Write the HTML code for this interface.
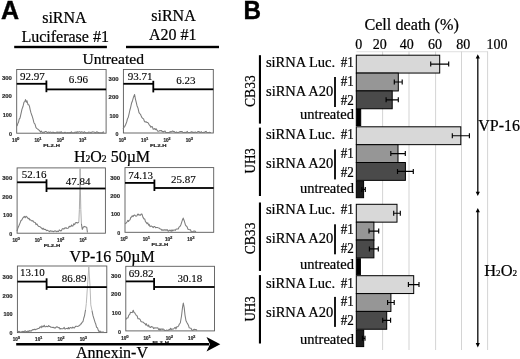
<!DOCTYPE html>
<html><head><meta charset="utf-8"><title>Figure</title>
<style>html,body{margin:0;padding:0;background:#fff;}body{width:520px;height:359px;overflow:hidden;font-family:"Liberation Serif",serif;}</style>
</head><body>
<svg width="520" height="359" viewBox="0 0 520 359" style="display:block;filter:blur(0.3px)"><text transform="translate(0.9,19) scale(0.95,1)" font-size="26.4" font-family="Liberation Sans, sans-serif" font-weight="bold" stroke="#000" stroke-width="0.4">A</text>
<text x="64.4" y="23" font-size="16" text-anchor="middle" font-family="Liberation Serif, serif" stroke="#000" stroke-width="0.22" fill="#000" >siRNA</text>
<text x="65.2" y="42" font-size="16" text-anchor="middle" font-family="Liberation Serif, serif" stroke="#000" stroke-width="0.22" fill="#000" >Luciferase #1</text>
<text x="173.5" y="20.9" font-size="16" text-anchor="middle" font-family="Liberation Serif, serif" stroke="#000" stroke-width="0.22" fill="#000" >siRNA</text>
<text x="172.8" y="40.1" font-size="16" text-anchor="middle" font-family="Liberation Serif, serif" stroke="#000" stroke-width="0.22" fill="#000" >A20 #1</text>
<rect x="14.2" y="45.8" width="92.7" height="2.4" fill="#000"/>
<rect x="126" y="45.8" width="93" height="2.4" fill="#000"/>
<text x="113.2" y="63.8" font-size="15.6" text-anchor="middle" font-family="Liberation Serif, serif" stroke="#000" stroke-width="0.22" fill="#000" >Untreated</text>
<text x="112" y="162" font-size="16" text-anchor="middle" font-family="Liberation Serif, serif" stroke="#000" stroke-width="0.22">H<tspan font-size="9.6">2</tspan>O<tspan font-size="9.6">2</tspan> 50µM</text>
<text x="112.2" y="262" font-size="16" text-anchor="middle" font-family="Liberation Serif, serif" stroke="#000" stroke-width="0.22" fill="#000" >VP-16 50µM</text>
<text x="112" y="357.5" font-size="16" text-anchor="middle" font-family="Liberation Serif, serif" stroke="#000" stroke-width="0.22" fill="#000" >Annexin-V</text>
<rect x="16.7" y="69.5" width="89.39999999999999" height="63.69999999999999" fill="#fff" stroke="#5a5a5a" stroke-width="0.9"/>
<polyline points="17.0,126.1 17.8,123.6 18.5,122.3 19.2,119.1 20.0,118.1 21.0,113.7 22.0,109.1 23.0,106.5 24.0,102.1 24.8,101.6 25.5,99.6 26.3,102.2 27.0,100.8 28.0,104.7 28.8,104.7 29.5,106.4 30.2,109.8 31.0,112.9 32.0,115.7 33.0,118.8 34.0,123.0 35.0,124.1 36.0,127.7 37.0,128.6 38.0,129.3 39.0,130.2 39.8,130.9 40.6,132.2 41.4,131.1 42.2,132.2 43.0,132.6 43.7,132.1 44.4,132.4 45.1,131.5 45.8,131.5 46.5,131.8 47.2,132.7 48.0,132.2 48.7,132.0 49.4,132.6 50.1,132.3 50.8,132.0 51.5,132.7 52.2,132.7 52.9,132.0 53.6,132.6 54.3,132.6 55.0,132.7 55.8,132.7 56.5,132.1 57.2,132.7 57.9,131.8 58.6,132.4 59.3,132.7 60.0,131.9 60.7,132.6 61.4,131.7 62.1,132.7 62.9,132.7 63.6,132.7 64.3,132.7 65.0,132.2 65.7,132.7 66.4,132.7 67.1,132.7 67.9,132.5 68.6,132.7 69.3,132.7 70.0,132.5 70.7,132.7 71.4,131.7 72.1,132.7 72.9,132.7 73.6,132.7 74.3,132.7 75.0,132.1 75.7,132.3 76.4,132.7 77.1,131.6 77.9,132.5 78.6,131.9 79.3,131.8 80.0,131.7 80.7,132.7 81.4,131.8 82.1,132.0 82.9,132.3 83.6,132.7 84.3,131.7 85.0,132.4 85.7,132.6 86.4,132.7 87.1,132.7 87.9,132.7 88.6,132.1 89.3,132.3 90.0,132.2 90.7,132.7 91.4,132.7 92.1,131.8 92.8,131.9 93.5,132.0 94.2,132.1 94.9,132.6 95.6,132.7 96.3,132.2 97.0,131.7 97.7,132.5 98.4,132.4 99.1,132.7 99.8,132.7 100.5,132.7 101.2,132.7 101.9,132.7 102.6,132.7 103.3,131.9 104.0,132.7" fill="none" stroke="#7c7c7c" stroke-width="1.05" stroke-linejoin="round"/>
<rect x="16.7" y="82.89999999999999" width="29.7" height="1.8" fill="#000"/>
<rect x="45.5" y="80.5" width="1.8" height="11.700000000000003" fill="#000"/>
<rect x="46.4" y="88.5" width="59.699999999999996" height="1.8" fill="#000"/>
<text x="32.3" y="79.6" font-size="11" text-anchor="middle" font-family="Liberation Serif, serif" stroke="#000" stroke-width="0.12" fill="#000" >92.97</text>
<text x="78.3" y="83.3" font-size="11" text-anchor="middle" font-family="Liberation Serif, serif" stroke="#000" stroke-width="0.12" fill="#000" >6.96</text>
<text x="11.899999999999999" y="135.85" font-size="4.9" text-anchor="end" font-family="Liberation Sans, sans-serif" fill="#2a2a2a" font-weight="bold" stroke="#2a2a2a" stroke-width="0.15" textLength="3.0" lengthAdjust="spacingAndGlyphs">0</text>
<text x="11.899999999999999" y="117.25" font-size="4.9" text-anchor="end" font-family="Liberation Sans, sans-serif" fill="#2a2a2a" font-weight="bold" stroke="#2a2a2a" stroke-width="0.15" textLength="9.2" lengthAdjust="spacingAndGlyphs">100</text>
<text x="11.899999999999999" y="98.25" font-size="4.9" text-anchor="end" font-family="Liberation Sans, sans-serif" fill="#2a2a2a" font-weight="bold" stroke="#2a2a2a" stroke-width="0.15" textLength="10" lengthAdjust="spacingAndGlyphs">200</text>
<text x="11.899999999999999" y="80.25" font-size="4.9" text-anchor="end" font-family="Liberation Sans, sans-serif" fill="#2a2a2a" font-weight="bold" stroke="#2a2a2a" stroke-width="0.15" textLength="10" lengthAdjust="spacingAndGlyphs">300</text>
<text x="12.1" y="141.9" font-size="4.6" font-family="Liberation Sans, sans-serif" font-weight="bold" fill="#2a2a2a" stroke="#2a2a2a" stroke-width="0.2">10<tspan dx="-0.2" dy="-2" font-size="4.2">0</tspan></text>
<text x="34.4" y="141.9" font-size="4.6" font-family="Liberation Sans, sans-serif" font-weight="bold" fill="#2a2a2a" stroke="#2a2a2a" stroke-width="0.2">10<tspan dx="-0.2" dy="-2" font-size="4.2">1</tspan></text>
<text x="56.7" y="141.9" font-size="4.6" font-family="Liberation Sans, sans-serif" font-weight="bold" fill="#2a2a2a" stroke="#2a2a2a" stroke-width="0.2">10<tspan dx="-0.2" dy="-2" font-size="4.2">2</tspan></text>
<text x="79.0" y="141.9" font-size="4.6" font-family="Liberation Sans, sans-serif" font-weight="bold" fill="#2a2a2a" stroke="#2a2a2a" stroke-width="0.2">10<tspan dx="-0.2" dy="-2" font-size="4.2">3</tspan></text>
<text x="43.3" y="146.7" font-size="3.9" text-anchor="start" font-family="Liberation Sans, sans-serif" fill="#2a2a2a" font-weight="bold" stroke="#2a2a2a" stroke-width="0.2" textLength="16.6" lengthAdjust="spacingAndGlyphs">FL2-H</text>
<rect x="123.4" y="69.5" width="89.9" height="63.5" fill="#fff" stroke="#5a5a5a" stroke-width="0.9"/>
<polyline points="123.0,128.8 123.8,127.6 124.5,126.7 125.2,125.6 126.0,123.8 126.8,121.5 127.5,118.7 128.2,117.5 129.0,114.1 129.8,110.5 130.7,107.1 131.5,103.3 132.5,100.7 133.5,97.1 134.6,94.5 135.5,99.3 136.2,102.2 137.0,105.7 138.0,108.1 139.0,112.7 139.8,113.7 140.5,114.3 141.2,116.0 142.0,117.7 142.8,118.5 143.5,118.7 144.2,120.9 145.0,122.0 146.0,121.7 147.0,122.5 147.8,122.5 148.5,123.5 149.2,124.8 150.0,125.5 150.8,127.3 151.6,126.5 152.4,126.8 153.2,129.3 154.0,129.1 154.8,128.5 155.5,129.6 156.2,128.8 157.0,130.1 157.8,131.2 158.5,131.2 159.2,131.1 160.0,130.5 160.7,130.8 161.5,130.5 162.2,131.8 162.9,131.4 163.6,132.0 164.4,131.2 165.1,131.1 165.8,132.4 166.5,132.5 167.3,132.5 168.0,132.5 168.7,132.5 169.4,132.5 170.1,131.5 170.8,132.1 171.5,131.8 172.3,131.1 173.0,131.1 173.7,131.6 174.4,131.6 175.1,132.5 175.8,132.5 176.5,132.0 177.2,132.5 177.9,132.5 178.6,132.5 179.4,131.9 180.1,131.6 180.8,131.6 181.5,131.6 182.2,131.6 182.9,132.5 183.6,132.5 184.3,132.5 185.0,132.2 185.7,132.5 186.5,132.5 187.2,131.4 187.9,132.5 188.6,132.5 189.3,132.5 190.0,132.5 190.7,132.3 191.4,131.7 192.1,132.5 192.8,132.0 193.5,132.5 194.2,132.5 194.9,132.1 195.6,132.1 196.3,132.5 197.0,132.5 197.7,131.7 198.4,131.6 199.1,131.6 199.8,132.5 200.5,132.5 201.2,131.6 201.9,132.5 202.6,132.5 203.3,132.5 204.0,132.1 204.7,132.5 205.4,131.6 206.1,131.4 206.8,132.5 207.5,132.5 208.2,132.4 208.9,132.5 209.6,132.3 210.3,132.5 211.0,132.4" fill="none" stroke="#7c7c7c" stroke-width="1.05" stroke-linejoin="round"/>
<rect x="123.4" y="82.89999999999999" width="29.900000000000006" height="1.8" fill="#000"/>
<rect x="152.4" y="80.8" width="1.8" height="11.600000000000009" fill="#000"/>
<rect x="153.3" y="88.39999999999999" width="60.0" height="1.8" fill="#000"/>
<text x="140.2" y="79.7" font-size="11" text-anchor="middle" font-family="Liberation Serif, serif" stroke="#000" stroke-width="0.12" fill="#000" >93.71</text>
<text x="185.8" y="83.8" font-size="11" text-anchor="middle" font-family="Liberation Serif, serif" stroke="#000" stroke-width="0.12" fill="#000" >6.23</text>
<text x="118.60000000000001" y="135.65" font-size="4.9" text-anchor="end" font-family="Liberation Sans, sans-serif" fill="#2a2a2a" font-weight="bold" stroke="#2a2a2a" stroke-width="0.15" textLength="3.0" lengthAdjust="spacingAndGlyphs">0</text>
<text x="118.60000000000001" y="117.55" font-size="4.9" text-anchor="end" font-family="Liberation Sans, sans-serif" fill="#2a2a2a" font-weight="bold" stroke="#2a2a2a" stroke-width="0.15" textLength="9.2" lengthAdjust="spacingAndGlyphs">100</text>
<text x="118.60000000000001" y="99.05" font-size="4.9" text-anchor="end" font-family="Liberation Sans, sans-serif" fill="#2a2a2a" font-weight="bold" stroke="#2a2a2a" stroke-width="0.15" textLength="10" lengthAdjust="spacingAndGlyphs">200</text>
<text x="118.60000000000001" y="81.05" font-size="4.9" text-anchor="end" font-family="Liberation Sans, sans-serif" fill="#2a2a2a" font-weight="bold" stroke="#2a2a2a" stroke-width="0.15" textLength="10" lengthAdjust="spacingAndGlyphs">300</text>
<text x="118.8" y="141.7" font-size="4.6" font-family="Liberation Sans, sans-serif" font-weight="bold" fill="#2a2a2a" stroke="#2a2a2a" stroke-width="0.2">10<tspan dx="-0.2" dy="-2" font-size="4.2">0</tspan></text>
<text x="141.1" y="141.7" font-size="4.6" font-family="Liberation Sans, sans-serif" font-weight="bold" fill="#2a2a2a" stroke="#2a2a2a" stroke-width="0.2">10<tspan dx="-0.2" dy="-2" font-size="4.2">1</tspan></text>
<text x="163.4" y="141.7" font-size="4.6" font-family="Liberation Sans, sans-serif" font-weight="bold" fill="#2a2a2a" stroke="#2a2a2a" stroke-width="0.2">10<tspan dx="-0.2" dy="-2" font-size="4.2">2</tspan></text>
<text x="185.7" y="141.7" font-size="4.6" font-family="Liberation Sans, sans-serif" font-weight="bold" fill="#2a2a2a" stroke="#2a2a2a" stroke-width="0.2">10<tspan dx="-0.2" dy="-2" font-size="4.2">3</tspan></text>
<text x="150.0" y="146.5" font-size="3.9" text-anchor="start" font-family="Liberation Sans, sans-serif" fill="#2a2a2a" font-weight="bold" stroke="#2a2a2a" stroke-width="0.2" textLength="16.6" lengthAdjust="spacingAndGlyphs">FL2-H</text>
<rect x="17.1" y="167.9" width="88.30000000000001" height="65.29999999999998" fill="#fff" stroke="#5a5a5a" stroke-width="0.9"/>
<polyline points="17.0,231.2 18.0,227.7 19.0,225.5 20.0,223.1 21.0,220.5 21.8,220.0 22.7,218.2 23.5,217.3 24.3,216.4 25.2,217.7 26.0,216.2 26.8,216.9 27.5,217.7 28.2,218.8 29.0,218.3 29.8,220.0 30.5,219.8 31.2,220.4 32.0,221.0 32.8,220.6 33.6,222.1 34.4,222.2 35.2,222.4 36.0,224.6 36.8,223.9 37.6,225.1 38.4,226.3 39.2,226.5 40.0,226.7 40.8,227.5 41.6,228.1 42.4,229.1 43.2,228.2 44.0,229.6 44.8,229.2 45.6,229.5 46.4,230.6 47.2,230.3 48.0,230.6 48.8,231.1 49.5,231.6 50.3,230.7 51.1,231.2 51.9,231.1 52.6,231.2 53.4,231.7 54.1,231.1 54.9,231.1 55.6,230.9 56.3,231.7 57.1,231.1 57.8,231.4 58.5,231.4 59.3,229.9 60.0,230.4 60.8,231.0 61.5,230.5 62.2,228.9 63.0,228.6 63.8,229.1 64.5,228.1 65.2,228.2 66.0,227.6 66.8,228.4 67.6,228.3 68.4,228.1 69.2,226.2 70.0,226.9 70.8,226.4 71.5,225.0 72.2,226.1 73.0,225.9 73.8,223.8 74.7,224.6 75.5,222.8 76.5,222.5 77.5,223.0 78.8,222.2" fill="none" stroke="#7c7c7c" stroke-width="1.05" stroke-linejoin="round"/>
<polyline points="78.8,222.2 78.8,222.2 79.4,209.3 79.8,189.9 80.1,168.5 80.4,189.7 80.8,209.4 81.4,223.6 81.4,223.6" fill="none" stroke="#a8a8a8" stroke-width="0.95" stroke-linejoin="round"/>
<polyline points="81.4,223.6 82.3,229.4 83.4,227.0 84.5,226.4 85.8,226.9 86.8,227.5 87.4,232.5" fill="none" stroke="#7c7c7c" stroke-width="1.05" stroke-linejoin="round"/>
<rect x="17.1" y="181.4" width="29.4" height="1.8" fill="#000"/>
<rect x="45.6" y="179.3" width="1.8" height="12.699999999999989" fill="#000"/>
<rect x="46.5" y="187.6" width="58.900000000000006" height="1.8" fill="#000"/>
<text x="34" y="178.2" font-size="11" text-anchor="middle" font-family="Liberation Serif, serif" stroke="#000" stroke-width="0.12" fill="#000" >52.16</text>
<text x="78" y="185.2" font-size="11" text-anchor="middle" font-family="Liberation Serif, serif" stroke="#000" stroke-width="0.12" fill="#000" >47.84</text>
<text x="12.3" y="235.85" font-size="4.9" text-anchor="end" font-family="Liberation Sans, sans-serif" fill="#2a2a2a" font-weight="bold" stroke="#2a2a2a" stroke-width="0.15" textLength="3.0" lengthAdjust="spacingAndGlyphs">0</text>
<text x="12.3" y="217.05" font-size="4.9" text-anchor="end" font-family="Liberation Sans, sans-serif" fill="#2a2a2a" font-weight="bold" stroke="#2a2a2a" stroke-width="0.15" textLength="9.2" lengthAdjust="spacingAndGlyphs">100</text>
<text x="12.3" y="198.85" font-size="4.9" text-anchor="end" font-family="Liberation Sans, sans-serif" fill="#2a2a2a" font-weight="bold" stroke="#2a2a2a" stroke-width="0.15" textLength="10" lengthAdjust="spacingAndGlyphs">200</text>
<text x="12.3" y="179.85" font-size="4.9" text-anchor="end" font-family="Liberation Sans, sans-serif" fill="#2a2a2a" font-weight="bold" stroke="#2a2a2a" stroke-width="0.15" textLength="10" lengthAdjust="spacingAndGlyphs">300</text>
<text x="12.5" y="241.9" font-size="4.6" font-family="Liberation Sans, sans-serif" font-weight="bold" fill="#2a2a2a" stroke="#2a2a2a" stroke-width="0.2">10<tspan dx="-0.2" dy="-2" font-size="4.2">0</tspan></text>
<text x="34.8" y="241.9" font-size="4.6" font-family="Liberation Sans, sans-serif" font-weight="bold" fill="#2a2a2a" stroke="#2a2a2a" stroke-width="0.2">10<tspan dx="-0.2" dy="-2" font-size="4.2">1</tspan></text>
<text x="57.1" y="241.9" font-size="4.6" font-family="Liberation Sans, sans-serif" font-weight="bold" fill="#2a2a2a" stroke="#2a2a2a" stroke-width="0.2">10<tspan dx="-0.2" dy="-2" font-size="4.2">2</tspan></text>
<text x="79.4" y="241.9" font-size="4.6" font-family="Liberation Sans, sans-serif" font-weight="bold" fill="#2a2a2a" stroke="#2a2a2a" stroke-width="0.2">10<tspan dx="-0.2" dy="-2" font-size="4.2">3</tspan></text>
<text x="43.7" y="246.7" font-size="3.9" text-anchor="start" font-family="Liberation Sans, sans-serif" fill="#2a2a2a" font-weight="bold" stroke="#2a2a2a" stroke-width="0.2" textLength="16.6" lengthAdjust="spacingAndGlyphs">FL2-H</text>
<rect x="125" y="167.6" width="88.69999999999999" height="64.70000000000002" fill="#fff" stroke="#5a5a5a" stroke-width="0.9"/>
<polyline points="125.0,223.7 126.0,223.2 127.0,222.0 127.8,220.4 128.5,221.5 129.2,220.3 130.0,219.9 130.8,217.5 131.5,217.0 132.2,215.8 133.0,216.6 133.8,215.4 134.5,215.0 135.2,215.5 136.0,216.3 136.8,215.9 137.5,214.5 138.2,214.0 139.0,215.3 139.8,214.8 140.5,215.2 141.2,214.1 142.0,214.1 143.0,217.4 144.0,218.9 144.8,219.1 145.5,221.9 146.2,222.3 147.0,223.6 147.8,222.9 148.5,225.2 149.2,224.4 150.0,226.7 150.8,226.1 151.6,226.1 152.4,226.7 153.2,227.7 154.0,226.5 154.8,226.6 155.6,227.7 156.4,227.4 157.2,227.4 158.0,227.8 158.8,227.9 159.6,228.5 160.4,229.0 161.2,229.3 162.0,230.5 162.8,229.7 163.6,230.3 164.4,229.8 165.2,230.3 166.0,229.8 166.8,230.3 167.5,229.8 168.2,231.2 169.0,230.8 169.8,230.0 170.5,230.5 171.2,231.4 172.0,229.7 172.8,230.9 173.6,230.0 174.4,229.9 175.2,230.4 176.0,229.3 176.8,229.0 177.5,228.9 178.2,229.0 179.0,227.2 180.0,226.4 181.0,224.4 182.3,220.3 183.2,218.1 184.2,220.7 185.5,225.1 186.2,226.0 187.0,226.6 188.0,229.2 189.0,229.5 189.8,229.7 190.5,229.8 191.2,231.7 192.0,231.8 192.8,231.7 193.6,231.1 194.4,231.1 195.2,231.3 196.0,231.8" fill="none" stroke="#7c7c7c" stroke-width="1.05" stroke-linejoin="round"/>
<rect x="125" y="182.0" width="29.400000000000006" height="1.8" fill="#000"/>
<rect x="153.5" y="179.5" width="1.8" height="11.5" fill="#000"/>
<rect x="154.4" y="187.1" width="59.29999999999998" height="1.8" fill="#000"/>
<text x="140.7" y="178.8" font-size="11" text-anchor="middle" font-family="Liberation Serif, serif" stroke="#000" stroke-width="0.12" fill="#000" >74.13</text>
<text x="183.3" y="183" font-size="11" text-anchor="middle" font-family="Liberation Serif, serif" stroke="#000" stroke-width="0.12" fill="#000" >25.87</text>
<text x="120.2" y="234.95000000000002" font-size="4.9" text-anchor="end" font-family="Liberation Sans, sans-serif" fill="#2a2a2a" font-weight="bold" stroke="#2a2a2a" stroke-width="0.15" textLength="3.0" lengthAdjust="spacingAndGlyphs">0</text>
<text x="120.2" y="216.25" font-size="4.9" text-anchor="end" font-family="Liberation Sans, sans-serif" fill="#2a2a2a" font-weight="bold" stroke="#2a2a2a" stroke-width="0.15" textLength="9.2" lengthAdjust="spacingAndGlyphs">100</text>
<text x="120.2" y="198.15" font-size="4.9" text-anchor="end" font-family="Liberation Sans, sans-serif" fill="#2a2a2a" font-weight="bold" stroke="#2a2a2a" stroke-width="0.15" textLength="10" lengthAdjust="spacingAndGlyphs">200</text>
<text x="120.2" y="179.85" font-size="4.9" text-anchor="end" font-family="Liberation Sans, sans-serif" fill="#2a2a2a" font-weight="bold" stroke="#2a2a2a" stroke-width="0.15" textLength="10" lengthAdjust="spacingAndGlyphs">300</text>
<text x="120.4" y="241.0" font-size="4.6" font-family="Liberation Sans, sans-serif" font-weight="bold" fill="#2a2a2a" stroke="#2a2a2a" stroke-width="0.2">10<tspan dx="-0.2" dy="-2" font-size="4.2">0</tspan></text>
<text x="142.7" y="241.0" font-size="4.6" font-family="Liberation Sans, sans-serif" font-weight="bold" fill="#2a2a2a" stroke="#2a2a2a" stroke-width="0.2">10<tspan dx="-0.2" dy="-2" font-size="4.2">1</tspan></text>
<text x="165.0" y="241.0" font-size="4.6" font-family="Liberation Sans, sans-serif" font-weight="bold" fill="#2a2a2a" stroke="#2a2a2a" stroke-width="0.2">10<tspan dx="-0.2" dy="-2" font-size="4.2">2</tspan></text>
<text x="187.3" y="241.0" font-size="4.6" font-family="Liberation Sans, sans-serif" font-weight="bold" fill="#2a2a2a" stroke="#2a2a2a" stroke-width="0.2">10<tspan dx="-0.2" dy="-2" font-size="4.2">3</tspan></text>
<text x="151.6" y="245.8" font-size="3.9" text-anchor="start" font-family="Liberation Sans, sans-serif" fill="#2a2a2a" font-weight="bold" stroke="#2a2a2a" stroke-width="0.2" textLength="16.6" lengthAdjust="spacingAndGlyphs">FL2-H</text>
<rect x="17.4" y="266" width="89.4" height="66.60000000000002" fill="#fff" stroke="#5a5a5a" stroke-width="0.9"/>
<polyline points="17.2,331.9 17.9,331.3 18.6,331.8 19.3,331.4 20.1,332.1 20.8,332.1 21.5,331.9 22.2,331.3 22.9,332.1 23.6,331.4 24.4,331.5 25.1,330.7 25.8,331.4 26.5,331.6 27.2,331.6 27.9,331.0 28.7,331.6 29.4,330.6 30.1,331.1 30.8,330.7 31.5,331.0 32.3,329.9 33.0,329.6 33.8,329.8 34.5,329.3 35.3,329.7 36.0,329.3 36.7,329.3 37.5,328.8 38.2,328.6 39.0,328.5 39.7,327.2 40.5,326.7 41.2,327.7 41.9,325.9 42.7,326.9 43.4,326.6 44.2,325.3 44.9,326.8 45.7,326.8 46.4,326.2 47.2,326.5 47.9,326.8 48.7,325.5 49.4,326.4 50.2,326.5 50.9,327.3 51.7,327.3 52.5,327.5 53.2,327.2 54.0,327.9 54.7,327.7 55.5,327.9 56.2,327.1 57.0,326.8 57.7,327.2 58.5,327.8 59.2,327.5 60.0,329.1 60.7,328.5 61.4,328.7 62.1,328.7 62.8,328.8 63.5,328.4 64.2,327.4 64.9,329.0 65.6,328.9 66.3,328.4 67.0,328.5 67.7,328.7 68.4,327.5 69.1,328.9 69.8,327.9 70.5,327.5 71.3,327.7 72.0,328.3 72.8,327.0 73.6,327.8 74.4,328.0 75.2,326.8 75.9,326.3 76.7,326.3 77.5,326.4 78.2,326.3 79.0,325.7 79.7,325.5 80.5,324.0 81.2,323.9 82.1,322.3 83.0,321.5 83.8,318.0 84.5,315.8 85.5,310.0" fill="none" stroke="#7c7c7c" stroke-width="1.05" stroke-linejoin="round"/>
<polyline points="85.5,310.0 85.5,310.0 86.3,303.6 87.6,284.5 88.8,267.0 90.0,285.4 90.8,304.9 92.0,310.6 92.0,310.6" fill="none" stroke="#b4b4b4" stroke-width="0.95" stroke-linejoin="round"/>
<polyline points="92.0,310.6 93.0,315.7 94.3,319.9 95.0,322.2 95.7,323.8 96.6,327.3 97.5,327.9 98.4,330.6 99.2,331.7 100.1,331.0 100.9,332.0 101.6,332.1 102.4,332.1 103.1,332.1 103.9,332.1" fill="none" stroke="#7c7c7c" stroke-width="1.05" stroke-linejoin="round"/>
<rect x="17.4" y="280.70000000000005" width="29.200000000000003" height="1.8" fill="#000"/>
<rect x="45.7" y="278.3" width="1.8" height="11.5" fill="#000"/>
<rect x="46.6" y="286.20000000000005" width="60.199999999999996" height="1.8" fill="#000"/>
<text x="32.4" y="276.4" font-size="11" text-anchor="middle" font-family="Liberation Serif, serif" stroke="#000" stroke-width="0.12" fill="#000" >13.10</text>
<text x="74.2" y="282" font-size="11" text-anchor="middle" font-family="Liberation Serif, serif" stroke="#000" stroke-width="0.12" fill="#000" >86.89</text>
<text x="12.599999999999998" y="335.25" font-size="4.9" text-anchor="end" font-family="Liberation Sans, sans-serif" fill="#2a2a2a" font-weight="bold" stroke="#2a2a2a" stroke-width="0.15" textLength="3.0" lengthAdjust="spacingAndGlyphs">0</text>
<text x="12.599999999999998" y="315.95" font-size="4.9" text-anchor="end" font-family="Liberation Sans, sans-serif" fill="#2a2a2a" font-weight="bold" stroke="#2a2a2a" stroke-width="0.15" textLength="9.2" lengthAdjust="spacingAndGlyphs">100</text>
<text x="12.599999999999998" y="297.55" font-size="4.9" text-anchor="end" font-family="Liberation Sans, sans-serif" fill="#2a2a2a" font-weight="bold" stroke="#2a2a2a" stroke-width="0.15" textLength="10" lengthAdjust="spacingAndGlyphs">200</text>
<text x="12.599999999999998" y="278.65" font-size="4.9" text-anchor="end" font-family="Liberation Sans, sans-serif" fill="#2a2a2a" font-weight="bold" stroke="#2a2a2a" stroke-width="0.15" textLength="10" lengthAdjust="spacingAndGlyphs">300</text>
<text x="12.8" y="341.3" font-size="4.6" font-family="Liberation Sans, sans-serif" font-weight="bold" fill="#2a2a2a" stroke="#2a2a2a" stroke-width="0.2">10<tspan dx="-0.2" dy="-2" font-size="4.2">0</tspan></text>
<text x="35.1" y="341.3" font-size="4.6" font-family="Liberation Sans, sans-serif" font-weight="bold" fill="#2a2a2a" stroke="#2a2a2a" stroke-width="0.2">10<tspan dx="-0.2" dy="-2" font-size="4.2">1</tspan></text>
<text x="57.4" y="341.3" font-size="4.6" font-family="Liberation Sans, sans-serif" font-weight="bold" fill="#2a2a2a" stroke="#2a2a2a" stroke-width="0.2">10<tspan dx="-0.2" dy="-2" font-size="4.2">2</tspan></text>
<text x="79.7" y="341.3" font-size="4.6" font-family="Liberation Sans, sans-serif" font-weight="bold" fill="#2a2a2a" stroke="#2a2a2a" stroke-width="0.2">10<tspan dx="-0.2" dy="-2" font-size="4.2">3</tspan></text>
<rect x="125.8" y="266.3" width="88.7" height="64.59999999999997" fill="#fff" stroke="#5a5a5a" stroke-width="0.9"/>
<polyline points="125.9,319.5 127.0,317.9 128.0,317.9 128.8,315.1 129.7,314.5 130.5,312.3 131.4,312.4 132.3,312.6 133.2,310.3 134.0,312.5 134.7,312.7 135.5,314.3 136.3,315.4 137.2,316.0 138.0,318.8 138.8,318.8 139.5,318.8 140.2,319.6 141.0,321.5 141.8,321.9 142.6,322.1 143.4,322.3 144.2,323.2 145.0,323.6 145.7,325.0 146.4,323.7 147.1,325.6 147.9,326.1 148.6,325.0 149.3,327.0 150.0,326.9 150.7,327.5 151.4,326.5 152.1,326.9 152.9,327.1 153.6,328.6 154.3,328.0 155.0,327.7 155.7,328.0 156.4,327.9 157.1,327.7 157.9,327.9 158.6,329.6 159.3,328.7 160.0,330.2 160.8,328.9 161.5,329.0 162.2,329.5 163.0,328.9 163.8,329.4 164.5,330.4 165.2,330.4 166.0,330.4 166.8,330.0 167.5,330.4 168.2,330.4 169.0,329.5 169.8,329.7 170.5,328.3 171.2,329.6 172.0,328.9 172.8,329.3 173.6,328.9 174.4,328.0 175.2,327.3 176.0,328.9 176.8,326.7 177.7,326.8 178.5,326.0 179.4,324.0 180.3,323.0 181.5,316.0 182.5,307.5 183.3,303.0 184.2,307.6 185.0,315.1 186.0,320.8 187.0,322.8 187.8,324.1 188.5,325.4 189.2,327.8 190.0,328.0 191.0,328.2 192.0,330.3 192.8,330.4 193.5,329.7 194.2,329.3 195.0,329.6 196.0,329.5 197.0,330.4" fill="none" stroke="#7c7c7c" stroke-width="1.05" stroke-linejoin="round"/>
<rect x="125.8" y="280.5" width="28.299999999999997" height="1.8" fill="#000"/>
<rect x="153.2" y="278" width="1.8" height="12" fill="#000"/>
<rect x="154.1" y="286.1" width="60.400000000000006" height="1.8" fill="#000"/>
<text x="141.1" y="277.2" font-size="11" text-anchor="middle" font-family="Liberation Serif, serif" stroke="#000" stroke-width="0.12" fill="#000" >69.82</text>
<text x="189.8" y="281.9" font-size="11" text-anchor="middle" font-family="Liberation Serif, serif" stroke="#000" stroke-width="0.12" fill="#000" >30.18</text>
<text x="121.0" y="333.54999999999995" font-size="4.9" text-anchor="end" font-family="Liberation Sans, sans-serif" fill="#2a2a2a" font-weight="bold" stroke="#2a2a2a" stroke-width="0.15" textLength="3.0" lengthAdjust="spacingAndGlyphs">0</text>
<text x="121.0" y="314.75" font-size="4.9" text-anchor="end" font-family="Liberation Sans, sans-serif" fill="#2a2a2a" font-weight="bold" stroke="#2a2a2a" stroke-width="0.15" textLength="9.2" lengthAdjust="spacingAndGlyphs">100</text>
<text x="121.0" y="296.35" font-size="4.9" text-anchor="end" font-family="Liberation Sans, sans-serif" fill="#2a2a2a" font-weight="bold" stroke="#2a2a2a" stroke-width="0.15" textLength="10" lengthAdjust="spacingAndGlyphs">200</text>
<text x="121.0" y="277.65" font-size="4.9" text-anchor="end" font-family="Liberation Sans, sans-serif" fill="#2a2a2a" font-weight="bold" stroke="#2a2a2a" stroke-width="0.15" textLength="10" lengthAdjust="spacingAndGlyphs">300</text>
<text x="121.2" y="339.6" font-size="4.6" font-family="Liberation Sans, sans-serif" font-weight="bold" fill="#2a2a2a" stroke="#2a2a2a" stroke-width="0.2">10<tspan dx="-0.2" dy="-2" font-size="4.2">0</tspan></text>
<text x="143.5" y="339.6" font-size="4.6" font-family="Liberation Sans, sans-serif" font-weight="bold" fill="#2a2a2a" stroke="#2a2a2a" stroke-width="0.2">10<tspan dx="-0.2" dy="-2" font-size="4.2">1</tspan></text>
<text x="165.8" y="339.6" font-size="4.6" font-family="Liberation Sans, sans-serif" font-weight="bold" fill="#2a2a2a" stroke="#2a2a2a" stroke-width="0.2">10<tspan dx="-0.2" dy="-2" font-size="4.2">2</tspan></text>
<text x="188.1" y="339.6" font-size="4.6" font-family="Liberation Sans, sans-serif" font-weight="bold" fill="#2a2a2a" stroke="#2a2a2a" stroke-width="0.2">10<tspan dx="-0.2" dy="-2" font-size="4.2">3</tspan></text>
<text x="152.4" y="344.4" font-size="3.9" text-anchor="start" font-family="Liberation Sans, sans-serif" fill="#2a2a2a" font-weight="bold" stroke="#2a2a2a" stroke-width="0.2" textLength="16.6" lengthAdjust="spacingAndGlyphs">FL2-H</text>
<rect x="16.2" y="343" width="193" height="2.5" fill="#000"/>
<path d="M206.5 337 L220.3 344.3 L206.5 351.6 L210 344.3 Z" fill="#000"/>
<text transform="translate(243.5,19) scale(0.92,1)" font-size="26.4" font-family="Liberation Sans, sans-serif" font-weight="bold" stroke="#000" stroke-width="0.4">B</text>
<text x="411.6" y="30" font-size="16.2" text-anchor="middle" font-family="Liberation Serif, serif" stroke="#000" stroke-width="0.22" fill="#000" >Cell death (%)</text>
<text x="358.7" y="48.8" font-size="14" text-anchor="middle" font-family="Liberation Serif, serif" stroke="#000" stroke-width="0.22" fill="#000" >0</text>
<text x="379.7" y="48.8" font-size="14" text-anchor="middle" font-family="Liberation Serif, serif" stroke="#000" stroke-width="0.22" fill="#000" >20</text>
<text x="406.7" y="48.8" font-size="14" text-anchor="middle" font-family="Liberation Serif, serif" stroke="#000" stroke-width="0.22" fill="#000" >40</text>
<text x="435" y="48.8" font-size="14" text-anchor="middle" font-family="Liberation Serif, serif" stroke="#000" stroke-width="0.22" fill="#000" >60</text>
<text x="463.3" y="48.8" font-size="14" text-anchor="middle" font-family="Liberation Serif, serif" stroke="#000" stroke-width="0.22" fill="#000" >80</text>
<text x="497.1" y="48.8" font-size="14" text-anchor="middle" font-family="Liberation Serif, serif" stroke="#000" stroke-width="0.22" fill="#000" >100</text>
<rect x="356.5" y="51.3" width="131.5" height="0.9" fill="#dcdcdc"/>
<rect x="382.1" y="51.5" width="1" height="298.5" fill="#d4d4d4"/>
<rect x="408.5" y="51.5" width="1" height="298.5" fill="#d4d4d4"/>
<rect x="435.1" y="51.5" width="1" height="298.5" fill="#d4d4d4"/>
<rect x="461.0" y="51.5" width="1" height="298.5" fill="#d4d4d4"/>
<rect x="487.1" y="51.5" width="1" height="298.5" fill="#d4d4d4"/>
<rect x="356.3" y="55.2" width="83.4" height="17.85" fill="#d8d8d8" stroke="#000" stroke-width="1"/>
<path d="M430.7 64.1 H448.7 M430.7 61.6 v5 M448.7 61.6 v5" stroke="#000" stroke-width="1.15" fill="none"/>
<rect x="356.3" y="73.1" width="42.0" height="17.85" fill="#969696" stroke="#000" stroke-width="1"/>
<path d="M394.3 82.0 H402.2 M394.3 79.5 v5 M402.2 79.5 v5" stroke="#000" stroke-width="1.15" fill="none"/>
<rect x="356.3" y="90.9" width="35.9" height="17.85" fill="#4a4a4a" stroke="#000" stroke-width="1"/>
<path d="M386.1 99.8 H398.3 M386.1 97.3 v5 M398.3 97.3 v5" stroke="#000" stroke-width="1.15" fill="none"/>
<rect x="356.3" y="109.5" width="4.4" height="16" fill="#000" stroke="#000" stroke-width="1"/>
<text x="265.9" y="67.1" font-size="14.5" text-anchor="start" font-family="Liberation Serif, serif" stroke="#000" stroke-width="0.22" fill="#000" >siRNA Luc.</text>
<text transform="translate(353.8,67.1) scale(0.9,1)" font-size="14.5" text-anchor="end" font-family="Liberation Serif, serif" stroke="#000" stroke-width="0.22">#1</text>
<text x="266" y="96.0" font-size="14.5" text-anchor="start" font-family="Liberation Serif, serif" stroke="#000" stroke-width="0.22" fill="#000" >siRNA A20</text>
<text transform="translate(353.8,85.8) scale(0.9,1)" font-size="14.5" text-anchor="end" font-family="Liberation Serif, serif" stroke="#000" stroke-width="0.22">#1</text>
<text transform="translate(353.8,104.8) scale(0.9,1)" font-size="14.5" text-anchor="end" font-family="Liberation Serif, serif" stroke="#000" stroke-width="0.22">#2</text>
<text x="354" y="118.8" font-size="14.5" text-anchor="end" font-family="Liberation Serif, serif" stroke="#000" stroke-width="0.22" fill="#000" >untreated</text>
<rect x="334.1" y="77.0" width="1.8" height="30" fill="#000"/>
<rect x="258.9" y="55.2" width="2.1" height="68.4" fill="#000"/>
<text transform="translate(254.9,91.1) rotate(-90) scale(0.95,1)" font-size="14.3" text-anchor="middle" font-family="Liberation Serif, serif" stroke="#000" stroke-width="0.22">CB33</text>
<rect x="356.3" y="126.8" width="104.5" height="17.85" fill="#d8d8d8" stroke="#000" stroke-width="1"/>
<path d="M452.3 135.7 H469.4 M452.3 133.2 v5 M469.4 133.2 v5" stroke="#000" stroke-width="1.15" fill="none"/>
<rect x="356.3" y="144.7" width="41.7" height="17.85" fill="#969696" stroke="#000" stroke-width="1"/>
<path d="M390.8 153.6 H405.3 M390.8 151.1 v5 M405.3 151.1 v5" stroke="#000" stroke-width="1.15" fill="none"/>
<rect x="356.3" y="162.5" width="49.1" height="17.85" fill="#4a4a4a" stroke="#000" stroke-width="1"/>
<path d="M397.5 171.4 H413.3 M397.5 168.9 v5 M413.3 168.9 v5" stroke="#000" stroke-width="1.15" fill="none"/>
<rect x="356.3" y="181.2" width="7.3" height="16.5" fill="#1c1c1c" stroke="#000" stroke-width="1"/>
<path d="M361.8 189.4 H365.3 M361.8 186.9 v5 M365.3 186.9 v5" stroke="#000" stroke-width="1.15" fill="none"/>
<text x="265.9" y="139.29999999999998" font-size="14.5" text-anchor="start" font-family="Liberation Serif, serif" stroke="#000" stroke-width="0.22" fill="#000" >siRNA Luc.</text>
<text transform="translate(353.8,139.3) scale(0.9,1)" font-size="14.5" text-anchor="end" font-family="Liberation Serif, serif" stroke="#000" stroke-width="0.22">#1</text>
<text x="266" y="168.39999999999998" font-size="14.5" text-anchor="start" font-family="Liberation Serif, serif" stroke="#000" stroke-width="0.22" fill="#000" >siRNA A20</text>
<text transform="translate(353.8,157.9) scale(0.9,1)" font-size="14.5" text-anchor="end" font-family="Liberation Serif, serif" stroke="#000" stroke-width="0.22">#1</text>
<text transform="translate(353.8,176.9) scale(0.9,1)" font-size="14.5" text-anchor="end" font-family="Liberation Serif, serif" stroke="#000" stroke-width="0.22">#2</text>
<text x="354" y="192.59999999999997" font-size="14.5" text-anchor="end" font-family="Liberation Serif, serif" stroke="#000" stroke-width="0.22" fill="#000" >untreated</text>
<rect x="334.1" y="149.39999999999998" width="1.8" height="30" fill="#000"/>
<rect x="258.9" y="127.6" width="2.1" height="68.4" fill="#000"/>
<text transform="translate(254.9,160.8) rotate(-90) scale(0.91,1)" font-size="14.3" text-anchor="middle" font-family="Liberation Serif, serif" stroke="#000" stroke-width="0.22">UH3</text>
<rect x="356.3" y="204.3" width="40.7" height="17.85" fill="#d8d8d8" stroke="#000" stroke-width="1"/>
<path d="M393.7 213.2 H400.3 M393.7 210.7 v5 M400.3 210.7 v5" stroke="#000" stroke-width="1.15" fill="none"/>
<rect x="356.3" y="222.2" width="17.6" height="17.85" fill="#969696" stroke="#000" stroke-width="1"/>
<path d="M369.0 231.1 H378.7 M369.0 228.6 v5 M378.7 228.6 v5" stroke="#000" stroke-width="1.15" fill="none"/>
<rect x="356.3" y="240.0" width="17.6" height="17.85" fill="#4a4a4a" stroke="#000" stroke-width="1"/>
<path d="M369.4 248.9 H378.3 M369.4 246.4 v5 M378.3 246.4 v5" stroke="#000" stroke-width="1.15" fill="none"/>
<rect x="356.3" y="258.7" width="4.1" height="16" fill="#000" stroke="#000" stroke-width="1"/>
<text x="265.9" y="214.3" font-size="14.5" text-anchor="start" font-family="Liberation Serif, serif" stroke="#000" stroke-width="0.22" fill="#000" >siRNA Luc.</text>
<text transform="translate(353.8,214.3) scale(0.9,1)" font-size="14.5" text-anchor="end" font-family="Liberation Serif, serif" stroke="#000" stroke-width="0.22">#1</text>
<text x="266" y="243.3" font-size="14.5" text-anchor="start" font-family="Liberation Serif, serif" stroke="#000" stroke-width="0.22" fill="#000" >siRNA A20</text>
<text transform="translate(353.8,233.5) scale(0.9,1)" font-size="14.5" text-anchor="end" font-family="Liberation Serif, serif" stroke="#000" stroke-width="0.22">#1</text>
<text transform="translate(353.8,252.5) scale(0.9,1)" font-size="14.5" text-anchor="end" font-family="Liberation Serif, serif" stroke="#000" stroke-width="0.22">#2</text>
<text x="354" y="268.8" font-size="14.5" text-anchor="end" font-family="Liberation Serif, serif" stroke="#000" stroke-width="0.22" fill="#000" >untreated</text>
<rect x="334.1" y="224.3" width="1.8" height="30" fill="#000"/>
<rect x="258.9" y="202.5" width="2.1" height="68.4" fill="#000"/>
<text transform="translate(254.9,238.4) rotate(-90) scale(0.95,1)" font-size="14.3" text-anchor="middle" font-family="Liberation Serif, serif" stroke="#000" stroke-width="0.22">CB33</text>
<rect x="356.3" y="275.7" width="57.4" height="17.85" fill="#d8d8d8" stroke="#000" stroke-width="1"/>
<path d="M408.4 284.6 H419.0 M408.4 282.1 v5 M419.0 282.1 v5" stroke="#000" stroke-width="1.15" fill="none"/>
<rect x="356.3" y="293.6" width="34.6" height="17.85" fill="#969696" stroke="#000" stroke-width="1"/>
<path d="M387.6 302.5 H394.2 M387.6 300.0 v5 M394.2 300.0 v5" stroke="#000" stroke-width="1.15" fill="none"/>
<rect x="356.3" y="311.4" width="30.4" height="17.85" fill="#4a4a4a" stroke="#000" stroke-width="1"/>
<path d="M382.7 320.3 H390.6 M382.7 317.8 v5 M390.6 317.8 v5" stroke="#000" stroke-width="1.15" fill="none"/>
<rect x="356.3" y="330.1" width="7.4" height="16.5" fill="#1c1c1c" stroke="#000" stroke-width="1"/>
<path d="M362.4 338.3 H365.0 M362.4 335.8 v5 M365.0 335.8 v5" stroke="#000" stroke-width="1.15" fill="none"/>
<text x="265.9" y="287.79999999999995" font-size="14.5" text-anchor="start" font-family="Liberation Serif, serif" stroke="#000" stroke-width="0.22" fill="#000" >siRNA Luc.</text>
<text transform="translate(353.8,287.8) scale(0.9,1)" font-size="14.5" text-anchor="end" font-family="Liberation Serif, serif" stroke="#000" stroke-width="0.22">#1</text>
<text x="266" y="316.59999999999997" font-size="14.5" text-anchor="start" font-family="Liberation Serif, serif" stroke="#000" stroke-width="0.22" fill="#000" >siRNA A20</text>
<text transform="translate(353.8,306.1) scale(0.9,1)" font-size="14.5" text-anchor="end" font-family="Liberation Serif, serif" stroke="#000" stroke-width="0.22">#1</text>
<text transform="translate(353.8,325.1) scale(0.9,1)" font-size="14.5" text-anchor="end" font-family="Liberation Serif, serif" stroke="#000" stroke-width="0.22">#2</text>
<text x="354" y="344.2" font-size="14.5" text-anchor="end" font-family="Liberation Serif, serif" stroke="#000" stroke-width="0.22" fill="#000" >untreated</text>
<rect x="334.1" y="296.9" width="1.8" height="30" fill="#000"/>
<rect x="258.9" y="275.09999999999997" width="2.1" height="68.4" fill="#000"/>
<text transform="translate(254.9,308.9) rotate(-90) scale(0.91,1)" font-size="14.3" text-anchor="middle" font-family="Liberation Serif, serif" stroke="#000" stroke-width="0.22">UH3</text>
<rect x="477.1" y="56.2" width="1.4" height="137.8" fill="#1a1a1a"/>
<path d="M477.8 54.2 l2.1 4.3 h-4.2 Z M477.8 196 l2.1 -4.3 h-4.2 Z" fill="#000"/>
<rect x="477.1" y="210" width="1.4" height="135.39999999999998" fill="#1a1a1a"/>
<path d="M477.8 208 l2.1 4.3 h-4.2 Z M477.8 347.4 l2.1 -4.3 h-4.2 Z" fill="#000"/>
<text x="478.3" y="131.3" font-size="16" text-anchor="start" font-family="Liberation Serif, serif" stroke="#000" stroke-width="0.22" fill="#000" >VP-16</text>
<text x="484.2" y="276.4" font-size="16.4" font-family="Liberation Serif, serif" stroke="#000" stroke-width="0.22">H<tspan font-size="9.2">2</tspan>O<tspan font-size="9.2">2</tspan></text></svg>
</body></html>
